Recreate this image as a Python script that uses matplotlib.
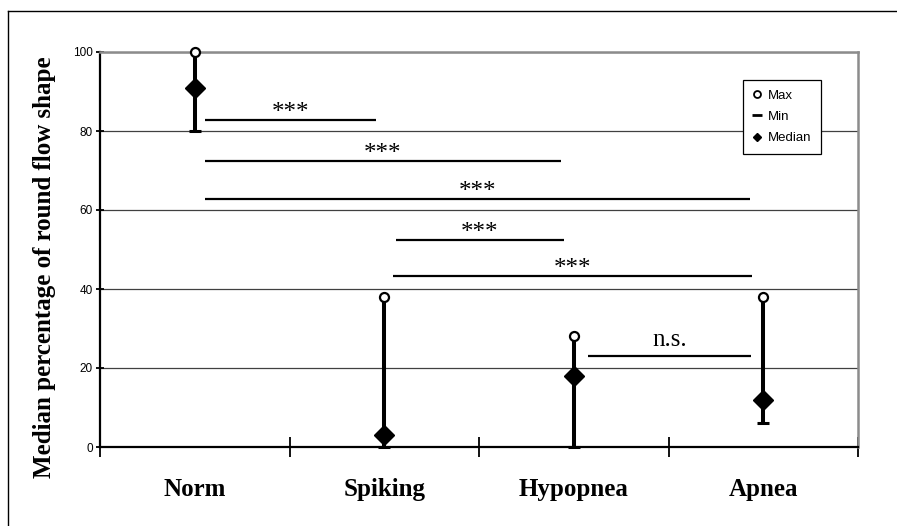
import matplotlib
matplotlib.use('Agg')
import matplotlib.pyplot as plt
from matplotlib.lines import Line2D

# ---------------- data ----------------
categories = ['Norm', 'Spiking', 'Hypopnea', 'Apnea']
max_vals = [100, 38, 28, 38]
min_vals = [80, 0, 0, 6]
median_vals = [91, 3, 18, 12]
y_ticks = [0, 20, 40, 60, 80, 100]

# significance brackets (y value, start category pos, end category pos, label)
sig_y = [82.8, 72.4, 62.8, 52.4, 43.3, 23.0]
sig_start = [0.054, 0.054, 0.054, 1.062, 1.046, 2.075]
sig_end = [0.956, 1.933, 2.930, 1.948, 2.940, 2.935]
sig_labels = ['***', '***', '***', '***', '***', 'n.s.']

SERIF = 'Liberation Serif'
SANS = 'Liberation Sans'

fig = plt.figure(figsize=(8.97, 5.26), dpi=100)
ax = fig.add_axes([100 / 897, 1 - 447 / 526, 758 / 897, 395 / 526])

# outer frame (top and left lines)
ytop = 1 - 11 / 526
xl = 8 / 897
fig.add_artist(Line2D([xl, 1], [ytop, ytop], transform=fig.transFigure, color='black', lw=1))
fig.add_artist(Line2D([xl, xl], [0, ytop], transform=fig.transFigure, color='black', lw=1))

x = list(range(len(categories)))

ax.vlines(x, min_vals, max_vals, color='black', lw=2.9, zorder=3)
ax.plot(x, min_vals, ls='none', marker='_', ms=9, mew=2.2, color='black', zorder=4, clip_on=False)
ax.plot(x, median_vals, ls='none', marker='D', ms=10.5, color='black', zorder=5, clip_on=False)
ax.plot(x, max_vals, ls='none', marker='o', ms=6.5, mfc='white', mec='black', mew=1.6,
        zorder=5, clip_on=False)

for yv, x0, x1, lab in zip(sig_y, sig_start, sig_end, sig_labels):
    ax.hlines(yv, x0, x1, color='black', lw=1.6, zorder=3)
    off = 1 if lab == '***' else 7
    ax.annotate(lab, xy=((x0 + x1) / 2, yv), xytext=(0, off), textcoords='offset points',
                ha='center', va='baseline', fontsize=18, family=SERIF)

ax.set_xlim(-0.5, 3.5)
ax.set_ylim(0, 100)

ax.set_yticks(y_ticks)
ax.set_yticklabels([str(t) for t in y_ticks], family=SANS, fontsize=8.5)
ax.tick_params(axis='y', direction='inout', length=6, width=1.3, pad=2)

ax.set_xticks([-0.5, 0.5, 1.5, 2.5, 3.5])
ax.set_xticklabels([])
ax.set_xticks(x, minor=True)
ax.set_xticklabels(categories, minor=True, fontsize=18, fontweight='bold', family=SERIF)
ax.tick_params(axis='x', which='major', direction='inout', length=14, width=1.3)
ax.tick_params(axis='x', which='minor', length=0, pad=22)

ax.yaxis.grid(True, color='#404040', lw=0.9)
ax.set_axisbelow(True)

for s in ['left', 'bottom']:
    ax.spines[s].set_color('black')
    ax.spines[s].set_linewidth(1.6)
for s in ['top', 'right']:
    ax.spines[s].set_color('#8c8c8c')
    ax.spines[s].set_linewidth(1.8)

ax.set_ylabel('Median percentage of round flow shape', fontsize=18, fontweight='bold', family=SERIF)
ax.yaxis.set_label_coords(-0.058, 0.454)

handles = [
    Line2D([], [], ls='none', marker='o', ms=5, mfc='white', mec='black', mew=1.3),
    Line2D([], [], ls='none', marker='_', ms=7, mew=2, color='black'),
    Line2D([], [], ls='none', marker='D', ms=4, color='black'),
]
leg = ax.legend(handles, ['Max', 'Min', 'Median'], loc='upper left', bbox_to_anchor=(0.848, 0.929),
                prop={'family': SANS, 'size': 9.5}, frameon=True, fancybox=False, edgecolor='black',
                framealpha=1, borderpad=0.7, handlelength=0.8, handletextpad=0.4,
                labelspacing=0.7, borderaxespad=0)
leg.get_frame().set_linewidth(0.9)

fig.savefig('out.png', dpi=100)
